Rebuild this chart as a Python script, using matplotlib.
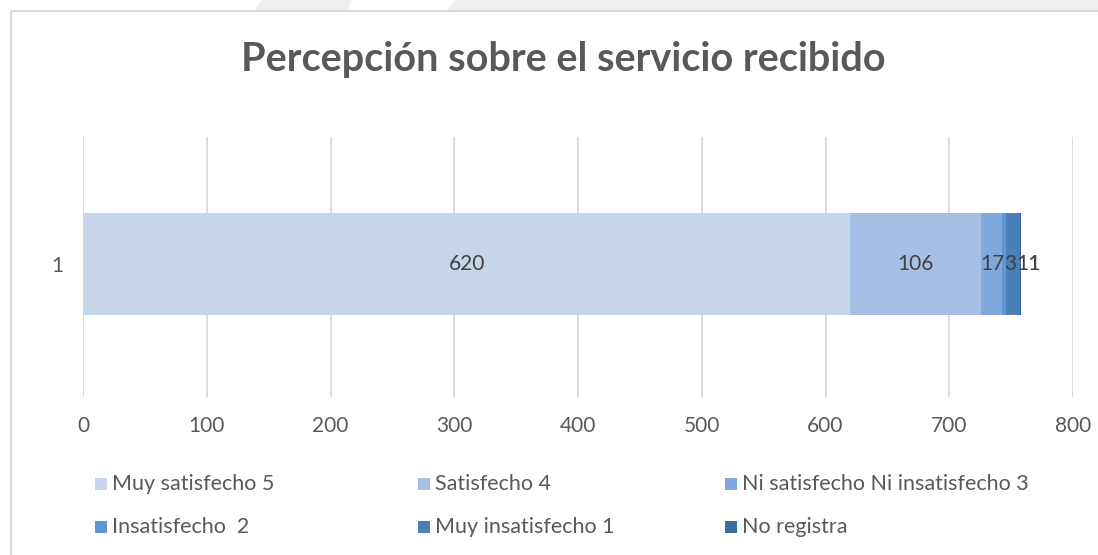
import matplotlib
matplotlib.use("Agg")
import matplotlib.pyplot as plt
from matplotlib.patches import Rectangle, Polygon

plt.rcParams['font.family'] = ['Lato', 'DejaVu Sans']

title = "Percepción sobre el servicio recibido"
category = ["1"]
series = ["Muy satisfecho 5", "Satisfecho 4", "Ni satisfecho Ni insatisfecho 3",
          "Insatisfecho  2", "Muy insatisfecho 1", "No registra"]
values = [620, 106, 17, 3, 11, 1]
colors = ["#C5D5EA", "#A5C0E4", "#7EA9DA", "#5F97D2", "#4B7FBA", "#3C6B9C"]
xticks = [0, 100, 200, 300, 400, 500, 600, 700, 800]

W, H = 1098, 555
fig = plt.figure(figsize=(W / 100, H / 100), dpi=100)

# slide background shapes at the top
for pts in ([(262, 0), (352, 0), (347, 11), (254, 11)],
            [(455, 0), (1098, 0), (1098, 11), (447, 11)]):
    fig.patches.append(Polygon([(x / W, 1 - y / H) for x, y in pts], closed=True,
                               transform=fig.transFigure, facecolor="#EFEFEF",
                               edgecolor="none", zorder=0))
# chart border
fig.patches.append(Rectangle((11 / W, -0.01), 1.0, 1 - 11 / H + 0.01,
                             transform=fig.transFigure, facecolor="white",
                             edgecolor="#D9D9D9", linewidth=1.5, zorder=0))

ax = fig.add_axes([83 / W, 1 - 397 / H, (1073 - 83) / W, (397 - 137) / H])
ax.set_zorder(3)
ax.set_facecolor("none")
left = 0
bars = []
lefts = []
for name, v, c in zip(series, values, colors):
    b = ax.barh(category, [v], left=[left], height=0.4, color=c, label=name, zorder=2)
    bars.append(b)
    lefts.append(left)
    left += v

FS = 15
LC = "#404040"
# large segments: centred labels
for b, v in zip(bars[:2], values[:2]):
    ax.bar_label(b, labels=[str(v)], label_type="center", fontsize=FS, color=LC)

# small segments: labels run together as in the reference
fig.canvas.draw()
r = fig.canvas.get_renderer()
t = ax.text(lefts[2] + values[2] / 2, 0, str(values[2]), ha="center", va="center",
            fontsize=FS, color=LC, zorder=5)
prev = t
for v in values[3:5]:
    bb = prev.get_window_extent(r)
    xd = ax.transData.inverted().transform((bb.x1, 0))[0]
    prev = ax.text(xd, 0, str(v), ha="left", va="center", fontsize=FS,
                   color=LC, zorder=5)
bb = prev.get_window_extent(r)
xd = ax.transData.inverted().transform((bb.x1, 0))[0]
ax.text(xd, 0, str(values[5]), ha="right", va="center", fontsize=FS,
        color=LC, alpha=0.35, zorder=5)

ax.set_xlim(0, 800)
ax.set_ylim(-0.52, 0.5)
ax.set_xticks(xticks)
ax.set_xticklabels([str(t) for t in xticks])
ax.grid(axis="x", color="#D9D9D9", linewidth=1.3, zorder=0)
for s in ax.spines.values():
    s.set_visible(False)
ax.tick_params(axis="both", length=0, labelsize=FS, labelcolor="#595959")
ax.tick_params(axis="x", pad=14)
ax.tick_params(axis="y", pad=14)

fig.text(563 / W, 1 - 60 / H, title, ha="center", va="center", fontsize=28.5,
         fontweight="bold", color="#595959")

# legend
col_x = [95, 418, 725]
row_y = [484, 527]
for i, (name, c) in enumerate(zip(series, colors)):
    x = col_x[i % 3]
    y = row_y[i // 3]
    fig.patches.append(Rectangle((x / W, 1 - (y + 6) / H), 12 / W, 12 / H,
                                 transform=fig.transFigure, facecolor=c,
                                 edgecolor="none", zorder=2))
    fig.text((x + 17) / W, 1 - y / H, name, ha="left", va="center",
             fontsize=15.5, color="#595959", zorder=3)

fig.savefig("out.png", dpi=100)
